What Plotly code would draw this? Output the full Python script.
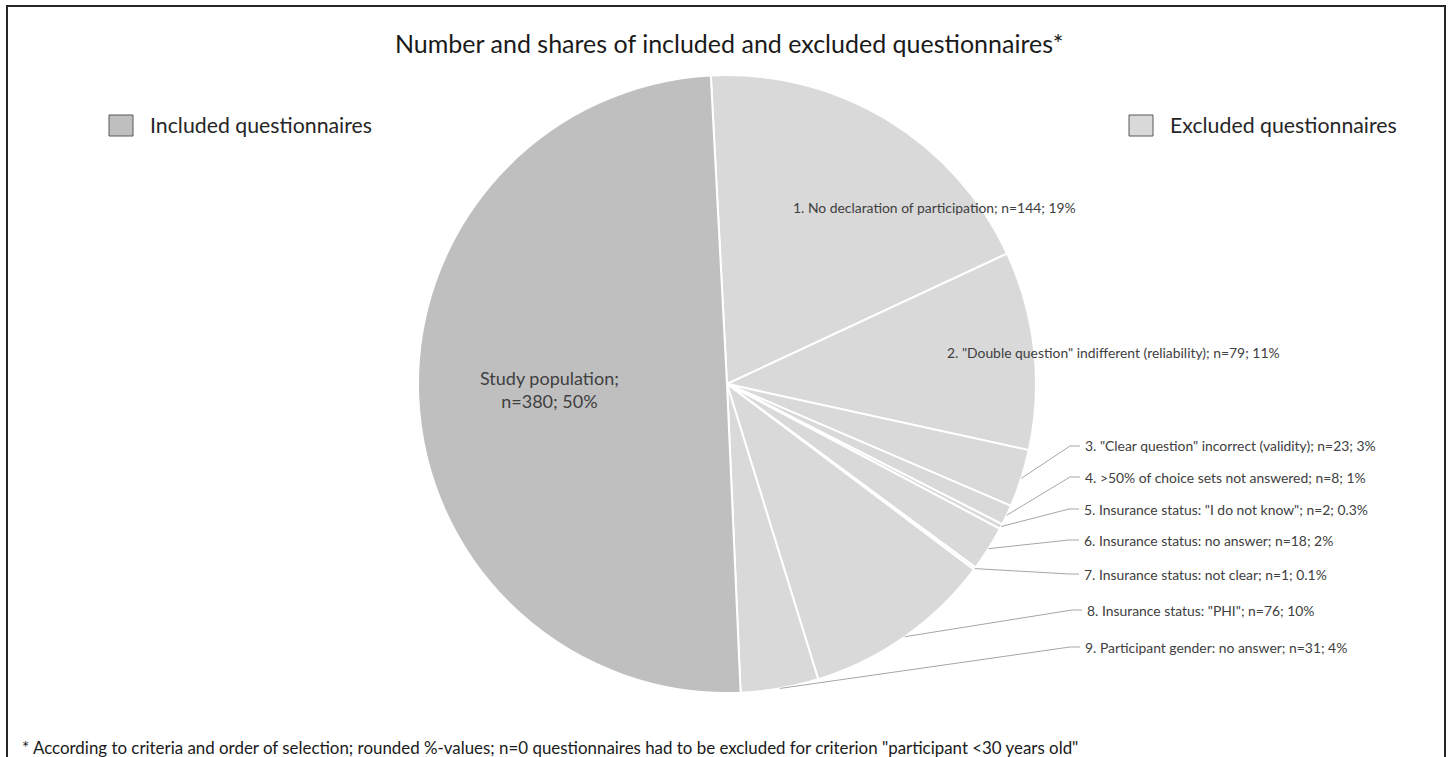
import numpy as np
import plotly.graph_objects as go

W, H = 1448, 757

# ---- data ----
labels = [
    '1. No declaration of participation',
    '2. "Double question" indifferent (reliability)',
    '3. "Clear question" incorrect (validity)',
    '4. >50% of choice sets not answered',
    '5. Insurance status: "I do not know"',
    '6. Insurance status: no answer',
    '7. Insurance status: not clear',
    '8. Insurance status: "PHI"',
    '9. Participant gender: no answer',
    'Study population',
]
counts = [144, 79, 23, 8, 2, 18, 1, 76, 31, 380]
shares = ['19%', '11%', '3%', '1%', '0.3%', '2%', '0.1%', '10%', '4%', '50%']
groups = ['Excluded questionnaires'] * 9 + ['Included questionnaires']

title = 'Number and shares of included and excluded questionnaires*'
footnote = ('* According to criteria and order of selection; rounded %-values; n=0 questionnaires '
            'had to be excluded for criterion "participant <30 years old"')

# ---- style ----
C_EXC = '#d9d9d9'
C_INC = '#bfbfbf'
FONT = 'Lato, "Open Sans", sans-serif'
TXT = '#404040'
LBL_SIZE = 13.9
ROT = -3.0

cx, cy, R = 727, 384, 309


def px(x):
    return x / W


def py(y):
    return 1 - y / H


colors = [C_INC if g.startswith('Included') else C_EXC for g in groups]

fig = go.Figure(go.Pie(
    labels=labels, values=counts, sort=False, direction='clockwise', rotation=ROT,
    marker=dict(colors=colors, line=dict(color='white', width=2)),
    textinfo='none', hoverinfo='label+value+percent', showlegend=False,
    domain=dict(x=[px(cx - R), px(cx + R)], y=[py(cy + R), py(cy - R)]),
))

vals = np.array(counts, dtype=float)
tot = vals.sum()
start = ROT + 360 * (np.cumsum(vals) - vals) / tot
mid = np.radians(start + 180 * vals / tot)

annotations = []
shapes = []

# inside labels (slices 1, 2) anchored at their left edge
inside_pos = {0: (791, 207), 1: (945, 352)}
for i, (x, y) in inside_pos.items():
    annotations.append(dict(x=px(x), y=py(y), xref='paper', yref='paper', showarrow=False,
                            text=f'{labels[i]}; n={counts[i]}; {shares[i]}',
                            font=dict(family=FONT, size=LBL_SIZE, color=TXT),
                            xanchor='left', yanchor='middle'))
annotations.append(dict(x=px(549), y=py(389), xref='paper', yref='paper', showarrow=False,
                        text=f'{labels[9]};<br>n={counts[9]}; {shares[9]}',
                        font=dict(family=FONT, size=18, color=TXT),
                        xanchor='center', yanchor='middle'))

# outside labels with leader lines (slices 3..9)
out_pos = {2: (1083, 446), 3: (1083, 477), 4: (1082, 509), 5: (1082, 540),
           6: (1082, 574), 7: (1085, 610), 8: (1083, 647)}
for i, (lx, ly) in out_pos.items():
    ex = cx + R * np.sin(mid[i])
    ey = cy - R * np.cos(mid[i])
    annotations.append(dict(x=px(lx), y=py(ly), xref='paper', yref='paper', showarrow=False,
                            text=f'{labels[i]}; n={counts[i]}; {shares[i]}',
                            font=dict(family=FONT, size=LBL_SIZE, color=TXT),
                            xanchor='left', yanchor='middle'))
    path = (f'M {px(ex)},{py(ey)} L {px(lx - 13)},{py(ly)} L {px(lx - 3)},{py(ly)}')
    shapes.append(dict(type='path', xref='paper', yref='paper', path=path,
                       line=dict(color='#a6a6a6', width=1)))

# legend keys
for (bx, tx), g, col in [((109, 148), 'Included questionnaires', C_INC),
                         ((1129, 1168), 'Excluded questionnaires', C_EXC)]:
    shapes.append(dict(type='rect', xref='paper', yref='paper',
                       x0=px(bx), x1=px(bx + 24), y0=py(136), y1=py(115),
                       fillcolor=col, line=dict(color='#595959', width=1)))
    annotations.append(dict(x=px(tx), y=py(125), xref='paper', yref='paper', showarrow=False,
                            text=g, font=dict(family=FONT, size=21.3, color='#262626'),
                            xanchor='left', yanchor='middle'))

# title and footnote
annotations.append(dict(x=px(729), y=py(43), xref='paper', yref='paper', showarrow=False,
                        text=title, font=dict(family=FONT, size=25, color='#1a1a1a'),
                        xanchor='center', yanchor='middle'))
annotations.append(dict(x=px(20), y=py(747), xref='paper', yref='paper', showarrow=False,
                        text=footnote, font=dict(family=FONT, size=16.9, color='#1a1a1a'),
                        xanchor='left', yanchor='middle'))

# outer frame
shapes.append(dict(type='rect', xref='paper', yref='paper', x0=px(7), x1=px(1445),
                   y0=py(770), y1=py(6), line=dict(color='#262626', width=2),
                   fillcolor='rgba(0,0,0,0)'))

fig.update_layout(width=W, height=H, margin=dict(l=0, r=0, t=0, b=0),
                  paper_bgcolor='white', plot_bgcolor='white',
                  annotations=annotations, shapes=shapes)

fig.write_html('out.html')
